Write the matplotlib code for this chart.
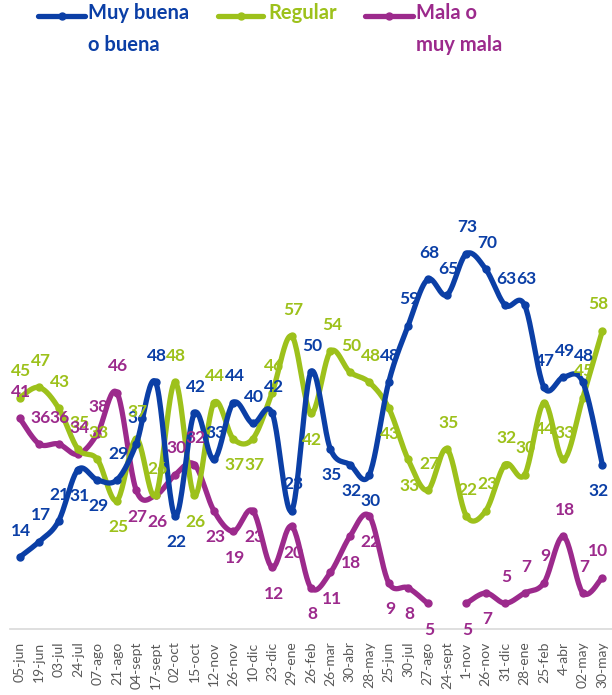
import numpy as np
import matplotlib
matplotlib.use("Agg")
import matplotlib.pyplot as plt
from matplotlib.lines import Line2D

plt.rcParams['font.family'] = ['Lato', 'DejaVu Sans']

categories = ["05-jun", "19-jun", "03-jul", "24-jul", "07-ago", "21-ago", "04-sept",
              "17-sept", "02-oct", "15-oct", "12-nov", "26-nov", "10-dic", "23-dic",
              "29-ene", "26-feb", "26-mar", "30-abr", "28-may", "25-jun", "30-jul",
              "27-ago", "24-sept", "1-nov", "26-nov", "31-dic", "28-ene", "25-feb",
              "4-abr", "02-may", "30-may"]

muy_buena = [14, 17, 21, 31, 29, 29, 36, 48, 22, 42, 33, 44, 40, 42, 23, 50, 35, 32,
             30, 48, 59, 68, 65, 73, 70, 63, 63, 47, 49, 48, 32]
regular = [45, 47, 43, 35, 33, 25, 37, 26, 48, 26, 44, 37, 37, 46, 57, 42, 54, 50,
           48, 43, 33, 27, 35, 22, 23, 32, 30, 44, 33, 45, 58]
mala = [41, 36, 36, 34, 38, 46, 27, 26, 30, 32, 23, 19, 23, 12, 20, 8, 11, 18,
        22, 9, 8, 5, None, 5, 7, 5, 7, 9, 18, 7, 10]

series_names = ["Muy buena\no buena", "Regular", "Mala o\nmuy mala"]
colors = ["#0B3FA6", "#9DC11B", "#9C2A8C"]

# label placement (indices whose label sits below the point)
below = [
    {3, 4, 8, 16, 17, 18, 30},
    {5, 9, 11, 12, 15, 19, 20, 27},
    {6, 7, 10, 11, 12, 13, 14, 15, 16, 17, 18, 19, 20, 21, 23, 24},
]


def bezier_smooth(xs, ys, n=24):
    xs = np.asarray(xs, float)
    ys = np.asarray(ys, float)
    P = np.column_stack([xs, ys])
    m = len(P)
    if m < 2:
        return xs, ys
    out = []
    t = np.linspace(0, 1, n)[:, None]
    for i in range(m - 1):
        p0 = P[i - 1] if i > 0 else P[i]
        p1 = P[i]
        p2 = P[i + 1]
        p3 = P[i + 2] if i + 2 < m else P[i + 1]
        c1 = p1 + (p2 - p0) / 6.0
        c2 = p2 - (p3 - p1) / 6.0
        seg = ((1 - t) ** 3) * p1 + 3 * ((1 - t) ** 2) * t * c1 + 3 * (1 - t) * t ** 2 * c2 + t ** 3 * p2
        out.append(seg if i == 0 else seg[1:])
    out = np.vstack(out)
    return out[:, 0], out[:, 1]


W, H = 612.0, 695.0
fig = plt.figure(figsize=(6.12, 6.95), dpi=100)
y0_px = 629.0
ppu = 5.14
ytop = 80
ax = fig.add_axes([10 / W, (H - y0_px) / H, 602 / W, ytop * ppu / H])

x = np.arange(len(categories))
last = len(categories) - 1
all_series = [muy_buena, regular, mala]
z = [4, 3, 2]
for k, (vals, col) in enumerate(zip(all_series, colors)):
    seg_x, seg_y = [], []
    segments = []
    for xi, v in zip(x, vals):
        if v is None:
            if seg_x:
                segments.append((seg_x, seg_y))
            seg_x, seg_y = [], []
        else:
            seg_x.append(xi)
            seg_y.append(v)
    if seg_x:
        segments.append((seg_x, seg_y))
    for sx, sy in segments:
        cx, cy = bezier_smooth(sx, sy)
        ax.plot(cx, cy, color=col, lw=3.8, solid_capstyle='round', zorder=z[k])
        ax.plot(sx, sy, 'o', color=col, ms=5, zorder=z[k])
    for xi, v in zip(x, vals):
        if v is None:
            continue
        dy = -19 if xi in below[k] else 19
        dx = -3 if xi == last else 1
        ax.annotate(str(v), (xi, v), xytext=(dx, dy), textcoords='offset points',
                    ha='center', va='center', fontsize=12.5, fontweight='bold',
                    color=col, zorder=10, annotation_clip=False)

ax.set_xlim(-0.5, len(categories) - 0.5)
ax.set_ylim(0, ytop)
ax.set_xticks(x)
ax.set_xticklabels(categories, rotation=90, fontsize=10, color='#595959')
ax.tick_params(axis='x', length=0, pad=9)
ax.set_yticks([])
for s in ['left', 'right', 'top']:
    ax.spines[s].set_visible(False)
ax.spines['bottom'].set_color('#D9D9D9')
ax.spines['bottom'].set_linewidth(1.2)

# legend (manual, top)
leg_items = [(38, 85, 88), (218, 263, 268), (365, 413, 416)]
ly = 1 - 16 / H
for (x0, x1, tx), name, col in zip(leg_items, series_names, colors):
    fig.add_artist(Line2D([x0 / W, x1 / W], [ly, ly], color=col, lw=3.8,
                          solid_capstyle='round', transform=fig.transFigure))
    fig.add_artist(Line2D([(x0 + x1) / 2 / W], [ly], marker='o', ms=5, color=col,
                          transform=fig.transFigure))
    fig.text(tx / W, 1 - 3 / H, name, ha='left', va='top', fontsize=14.5,
             fontweight='bold', color=col, linespacing=1.75)

fig.savefig("out.png", dpi=100)
